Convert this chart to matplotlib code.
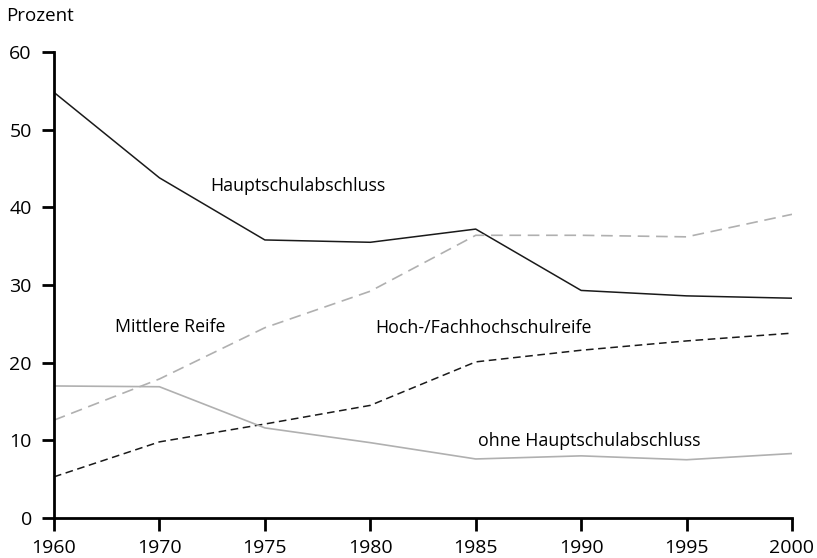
import matplotlib.pyplot as plt

plt.rcParams['font.family'] = ['Open Sans', 'DejaVu Sans']

jahre = ['1960', '1970', '1975', '1980', '1985', '1990', '1995', '2000']
hauptschul = [54.8, 43.8, 35.8, 35.5, 37.2, 29.3, 28.6, 28.3]
mittlere_reife = [12.6, 17.9, 24.5, 29.2, 36.4, 36.4, 36.2, 39.1]
hochschulreife = [5.3, 9.8, 12.1, 14.5, 20.1, 21.6, 22.8, 23.8]
ohne_abschluss = [17.0, 16.9, 11.6, 9.7, 7.6, 8.0, 7.5, 8.3]

fig = plt.figure(figsize=(8.17, 5.58), dpi=100)
ax = fig.add_axes([0.0661, 0.0717, 0.9033, 0.8351])

x = range(len(jahre))
ax.plot(x, hauptschul, color='#1a1a1a', lw=1.1)
ax.plot(x, mittlere_reife, color='#b0b0b0', lw=1.2, dashes=(7, 4))
ax.plot(x, hochschulreife, color='#1a1a1a', lw=1.1, dashes=(5, 3))
ax.plot(x, ohne_abschluss, color='#b0b0b0', lw=1.2)

fs = 12.8
ax.text(1.48, 42.7, 'Hauptschulabschluss', fontsize=fs, va='center', ha='left')
ax.text(0.58, 24.6, 'Mittlere Reife', fontsize=fs, va='center', ha='left')
ax.text(3.05, 24.4, 'Hoch-/Fachhochschulreife', fontsize=fs, va='center', ha='left')
ax.text(4.02, 9.9, 'ohne Hauptschulabschluss', fontsize=fs, va='center', ha='left')

ax.set_xlim(0, len(jahre) - 1)
ax.set_ylim(0, 60)
ax.set_xticks(list(x))
ax.set_xticklabels(jahre)
ax.set_yticks(range(0, 61, 10))
ax.tick_params(labelsize=14, length=9, width=2, direction='out')
ax.tick_params(axis='x', pad=6)
ax.tick_params(axis='y', pad=7)
for s in ['top', 'right']:
    ax.spines[s].set_visible(False)
for s in ['left', 'bottom']:
    ax.spines[s].set_linewidth(2)

fig.text(0.008, 0.972, 'Prozent', fontsize=13.5, va='center', ha='left')

fig.savefig('out.png', dpi=100)
